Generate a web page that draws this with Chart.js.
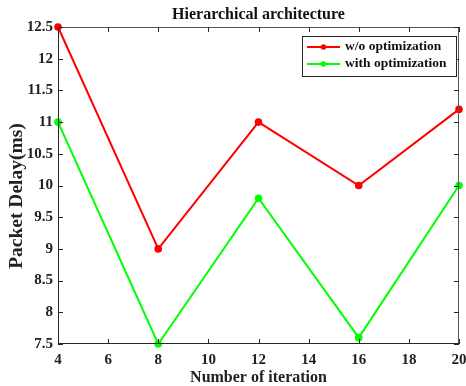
<!DOCTYPE html>
<html>
<head>
<meta charset="utf-8">
<script src="https://cdn.jsdelivr.net/npm/chart.js@4/dist/chart.umd.min.js"></script>
<style>
  html, body { margin: 0; padding: 0; background: #fff; }
  #wrap { width: 466px; height: 386px; }
</style>
</head>
<body>
<div id="wrap"><canvas id="chart" width="466" height="386"></canvas></div>
<script>
// ─── Data ────────────────────────────────────────────────────────────────────
const iterations = [4, 8, 12, 16, 20];
const withoutOpt = [12.5, 9, 11, 10, 11.2];
const withOpt = [11, 7.5, 9.8, 7.6, 10];
const seriesLabels = ['w/o optimization', 'with optimization'];
const chartTitle = 'Hierarchical architecture';
const xTitle = 'Number of iteration';
const yTitle = 'Packet Delay(ms)';

const FONT = '"Liberation Serif", "Times New Roman", serif';
const AXIS = '#262626';

// ─── Box, inward ticks, titles and legend (MATLAB look) ──────────────────────
const matlabFrame = {
    id: 'matlabFrame',
    afterDraw(chart) {
        const { ctx, chartArea: a, scales: { x, y } } = chart;
        const t = 5;
        ctx.save();
        ctx.lineWidth = 1;
        // top / right box edges, a bit lighter
        ctx.strokeStyle = '#555';
        ctx.beginPath();
        ctx.moveTo(a.left, a.top + 0.5); ctx.lineTo(a.right, a.top + 0.5);
        ctx.moveTo(a.right - 0.5, a.top); ctx.lineTo(a.right - 0.5, a.bottom);
        ctx.stroke();
        ctx.strokeStyle = AXIS;
        ctx.beginPath();
        ctx.moveTo(a.left + 0.5, a.top); ctx.lineTo(a.left + 0.5, a.bottom);
        ctx.moveTo(a.left, a.bottom - 0.5); ctx.lineTo(a.right, a.bottom - 0.5);
        x.ticks.forEach(tk => {
            const px = Math.round(x.getPixelForValue(tk.value)) + 0.5;
            ctx.moveTo(px, a.bottom); ctx.lineTo(px, a.bottom - t);
            ctx.moveTo(px, a.top); ctx.lineTo(px, a.top + t);
        });
        y.ticks.forEach(tk => {
            const py = Math.round(y.getPixelForValue(tk.value)) + 0.5;
            ctx.moveTo(a.left, py); ctx.lineTo(a.left + t, py);
            ctx.moveTo(a.right, py); ctx.lineTo(a.right - t, py);
        });
        ctx.stroke();

        // title
        ctx.fillStyle = '#111';
        ctx.font = `bold 16px ${FONT}`;
        ctx.textAlign = 'center';
        ctx.textBaseline = 'middle';
        ctx.fillText(chartTitle, (a.left + a.right) / 2, 15);

        // y axis title
        ctx.save();
        ctx.translate(17, 196);
        ctx.rotate(-Math.PI / 2);
        ctx.fillStyle = '#222';
        ctx.font = `bold 19.5px ${FONT}`;
        ctx.fillText(yTitle, 0, 0);
        ctx.restore();

        // legend
        const lx = 302, ly = 36, lw = 154, lh = 40;
        ctx.fillStyle = '#fff';
        ctx.fillRect(lx, ly, lw, lh);
        ctx.strokeStyle = AXIS;
        ctx.lineWidth = 1;
        ctx.strokeRect(lx + 0.5, ly + 0.5, lw, lh);
        ctx.font = `bold 13.5px ${FONT}`;
        ctx.textAlign = 'left';
        chart.data.datasets.forEach((ds, i) => {
            const cy = ly + 11 + i * 17;
            ctx.strokeStyle = ds.borderColor;
            ctx.lineWidth = 2;
            ctx.beginPath();
            ctx.moveTo(lx + 5, cy); ctx.lineTo(lx + 38, cy);
            ctx.stroke();
            ctx.fillStyle = ds.borderColor;
            ctx.beginPath();
            ctx.arc(lx + 21.5, cy, 2.8, 0, Math.PI * 2);
            ctx.fill();
            ctx.fillStyle = '#111';
            ctx.fillText(ds.label, lx + 43, cy);
        });
        ctx.restore();
    }
};

const mkSet = (label, data, color) => ({
    label,
    data: data.map((v, i) => ({ x: iterations[i], y: v })),
    borderColor: color,
    backgroundColor: color,
    borderWidth: 2,
    pointRadius: 2.8,
    pointHoverRadius: 2.8,
    tension: 0,
    clip: false
});

new Chart(document.getElementById('chart').getContext('2d'), {
    type: 'line',
    data: {
        datasets: [
            mkSet(seriesLabels[0], withoutOpt, '#ff0000'),
            mkSet(seriesLabels[1], withOpt, '#00ff00')
        ]
    },
    options: {
        responsive: false,
        animation: false,
        devicePixelRatio: 1,
        layout: { padding: { top: 27, right: 7, left: 0, bottom: 0 } },
        plugins: { legend: { display: false }, title: { display: false }, tooltip: { enabled: false } },
        scales: {
            x: {
                type: 'linear',
                min: 4, max: 20,
                border: { display: false },
                grid: { drawOnChartArea: false, drawTicks: false },
                ticks: { stepSize: 2, padding: 7, color: '#222', font: { family: FONT, size: 15, weight: 'bold' } },
                title: { display: true, text: xTitle, color: '#222', padding: { top: 0, bottom: 0 },
                         font: { family: FONT, size: 16, weight: 'bold', lineHeight: 1 } },
                afterFit(s) { s.height = 42; s.paddingLeft = 0; s.paddingRight = 0; }
            },
            y: {
                min: 7.5, max: 12.5,
                border: { display: false },
                grid: { drawOnChartArea: false, drawTicks: false },
                ticks: { stepSize: 0.5, padding: 5, color: '#222', callback: v => String(v),
                         font: { family: FONT, size: 15, weight: 'bold' } },
                title: { display: false },
                afterFit(s) { s.width = 58; s.paddingTop = 0; s.paddingBottom = 0; }
            }
        }
    },
    plugins: [matlabFrame]
});
</script>
</body>
</html>
